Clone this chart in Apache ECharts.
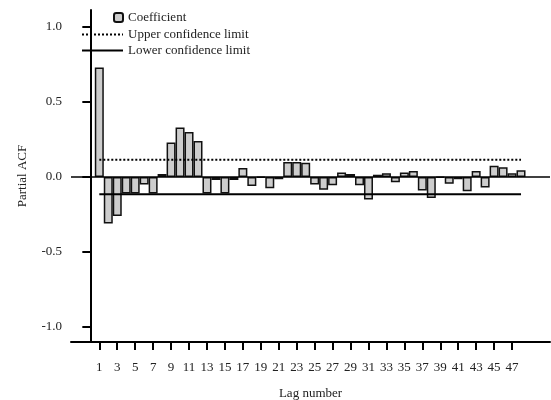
<!DOCTYPE html>
<html>
<head>
<meta charset="utf-8">
<script src="https://cdn.jsdelivr.net/npm/echarts@6/dist/echarts.min.js"></script>
<style>html,body{margin:0;padding:0;background:#fff}#c{width:551px;height:400px}</style>
</head>
<body>
<div id="c"></div>
<script>
// Lag numbers
const lags = [1,2,3,4,5,6,7,8,9,10,11,12,13,14,15,16,17,18,19,20,21,22,23,24,25,26,27,28,29,30,31,32,33,34,35,36,37,38,39,40,41,42,43,44,45,46,47,48];
// Partial ACF coefficients
const coefficient = [0.73,-0.31,-0.26,-0.11,-0.11,-0.05,-0.11,0.02,0.23,0.33,0.30,0.24,
  -0.11,-0.02,-0.11,-0.02,0.06,-0.06,-0.005,-0.075,-0.015,0.10,0.10,0.095,
  -0.05,-0.085,-0.055,0.03,0.02,-0.055,-0.15,0.015,0.025,-0.035,0.03,0.04,
  -0.09,-0.14,-0.005,-0.045,-0.015,-0.095,0.04,-0.07,0.075,0.065,0.025,0.045];
const upperLimit = 0.115;
const lowerLimit = -0.115;
// Tick labels
const xTickValues = [1,3,5,7,9,11,13,15,17,19,21,23,25,27,29,31,33,35,37,39,41,43,45,47];
const yTickValues = [-1,-0.5,0,0.5,1];

const FONT = 'Liberation Serif';
const TXT = '#222';

const chart = echarts.init(document.getElementById('c'), null, {renderer: 'canvas'});
chart.setOption({
  animation: false,
  backgroundColor: '#fff',
  textStyle: {fontFamily: FONT},
  legend: [
    {
      data: ['Coefficient'], orient: 'vertical', left: 108, top: 6,
      itemWidth: 9, itemHeight: 9, itemGap: 5,
      textStyle: {fontFamily: FONT, fontSize: 13, color: TXT}
    },
    {
      data: ['Upper confidence limit', 'Lower confidence limit'], orient: 'vertical', left: 76, top: 23,
      itemWidth: 41, itemHeight: 10, itemGap: 3,
      itemStyle: {opacity: 0},
      textStyle: {fontFamily: FONT, fontSize: 13, color: TXT}
    }
  ],
  grid: {left: 71, right: 1, top: 10, bottom: 58, containLabel: false, outerBoundsMode: 'none'},
  xAxis: {
    type: 'value', min: -2.154, max: 51.23,
    name: 'Lag number', nameLocation: 'middle', nameGap: 45,
    nameTextStyle: {fontFamily: FONT, fontSize: 13, color: TXT},
    axisLine: {show: true, onZero: false, lineStyle: {color: '#000', width: 2}},
    axisTick: {show: true, length: 8, customValues: xTickValues, lineStyle: {color: '#000', width: 2}},
    axisLabel: {customValues: xTickValues, margin: 19, fontFamily: FONT, fontSize: 13, color: TXT},
    splitLine: {show: false}
  },
  yAxis: {
    type: 'value', min: -1.1, max: 1.113,
    name: 'Partial ACF', nameLocation: 'middle', nameGap: 42,
    nameTextStyle: {fontFamily: FONT, fontSize: 13, color: TXT},
    axisLine: {show: true, lineStyle: {color: '#000', width: 2}},
    axisTick: {show: true, length: 8, customValues: yTickValues, lineStyle: {color: '#000', width: 2}},
    axisLabel: {customValues: yTickValues, margin: 9, fontFamily: FONT, fontSize: 13, color: TXT,
      formatter: v => v.toFixed(1)},
    splitLine: {show: false}
  },
  series: [
    {
      name: 'Coefficient', type: 'bar', barWidth: 9,
      data: lags.map((l, i) => [l, coefficient[i]]),
      itemStyle: {color: '#cdcdcd', borderColor: '#111', borderWidth: 1.5},
      markLine: {
        silent: true, symbol: 'none', label: {show: false},
        lineStyle: {color: '#000', width: 1.5, type: 'solid'},
        data: [{yAxis: 0}]
      },
      z: 2
    },
    {
      name: 'Upper confidence limit', type: 'line', symbol: 'none',
      data: lags.map(l => [l, upperLimit]),
      lineStyle: {color: '#000', width: 2, type: [2, 2]},
      itemStyle: {color: '#000'},
      z: 3
    },
    {
      name: 'Lower confidence limit', type: 'line', symbol: 'none',
      data: lags.map(l => [l, lowerLimit]),
      lineStyle: {color: '#000', width: 2, type: 'solid'},
      itemStyle: {color: '#000'},
      z: 3
    }
  ]
});
</script>
</body>
</html>
